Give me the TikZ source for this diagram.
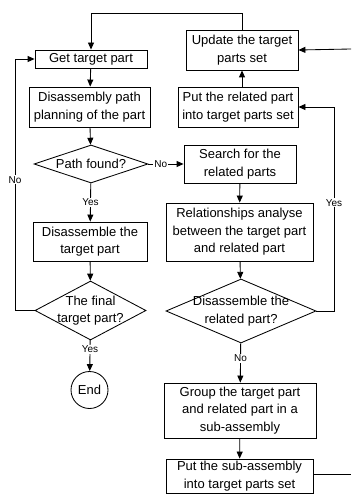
\documentclass[tikz,border=0pt]{standalone}
\usepackage{fontspec}
\setmainfont{Liberation Sans}
\usetikzlibrary{shapes.geometric,arrows.meta}

\begin{document}
\begin{tikzpicture}[x=1pt,y=-1pt,
  line width=0.85pt,
  font=\fontsize{13}{17.5}\selectfont,
  box/.style={draw,rectangle,inner sep=0pt,align=center},
  dec/.style={draw,diamond,inner sep=0pt},
  term/.style={draw,circle,inner sep=0pt,minimum size=37pt},
  flow/.style={-{Triangle[length=7pt,width=6pt]}},
  lab/.style={font=\fontsize{10}{12}\selectfont,fill=white,inner sep=1pt}
]
\useasboundingbox (0,0) rectangle (351,494);

% left column
\node[box,minimum width=112,minimum height=18] (get) at (91,59) {Get target part};
\node[box,minimum width=121,minimum height=40] (dpp) at (89.5,107) {Disassembly path\\planning of the part};
\node[dec,minimum width=114,minimum height=38,label={center:Path found?}] (pf) at (91,164) {};
\node[box,minimum width=114,minimum height=39] (dis) at (90,241.5) {Disassemble the\\target part};
\node[dec,minimum width=111,minimum height=59,label={[align=center]center:The final\\target part?}] (fin) at (90.5,310.5) {};
\node[term] (end) at (89.5,390) {End};

% right column
\node[box,minimum width=112,minimum height=40] (upd) at (242,50) {Update the target\\parts set};
\node[box,minimum width=120,minimum height=40] (put) at (238,107) {Put the related part\\into target parts set};
\node[box,minimum width=112,minimum height=38] (srch) at (240,164) {Search for the\\related parts};
\node[box,minimum width=147,minimum height=58] (rel) at (239.5,232) {Relationships analyse\\between the target part\\and related part};
\node[dec,minimum width=150,minimum height=64,label={[align=center]center:Disassemble the\\related part?}] (drp) at (241,311) {};
\node[box,minimum width=152,minimum height=55] (grp) at (240,410.5) {Group the target part\\and related part in a\\sub-assembly};
\node[box,minimum width=147,minimum height=34] (sub) at (239.5,476) {Put the sub-assembly\\into target parts set};

% loose ends at the right border
\coordinate (rin) at (351,49);
\coordinate (rout) at (351,474);

% main flow
\draw[flow] (get) -- (dpp);
\draw[flow] (dpp) -- (pf);
\draw[flow] (pf) -- node[lab]{Yes} (dis);
\draw[flow] (dis) -- (fin);
\draw[flow] (fin) -- node[lab,pos=0.3]{Yes} (end);
\draw[flow] (pf.east) -- node[lab,pos=0.35]{No} (srch.west);
\draw[flow] (srch) -- (rel);
\draw[flow] (rel) -- (drp);
\draw[flow] (drp) -- node[lab,pos=0.38]{No} (grp);
\draw[flow] (grp) -- (sub);
\draw[flow] (put.north -| upd.south) -- (upd.south);

% feedback loops
\draw[flow] (fin.west) -- (15,310.5) -- node[lab,pos=0.52]{No} (15,59) -- (get.west);
\draw[flow] (drp.east) -- (334,311) -- node[lab,pos=0.53]{Yes} (334,107) -- (put.east);
\draw[flow] (upd.north) -- (242,13) -- (91,13) -- (get.north);
\draw[flow] (rin) -- (upd.east);
\draw (sub.east |- rout) -- (rout);
\end{tikzpicture}
\end{document}
